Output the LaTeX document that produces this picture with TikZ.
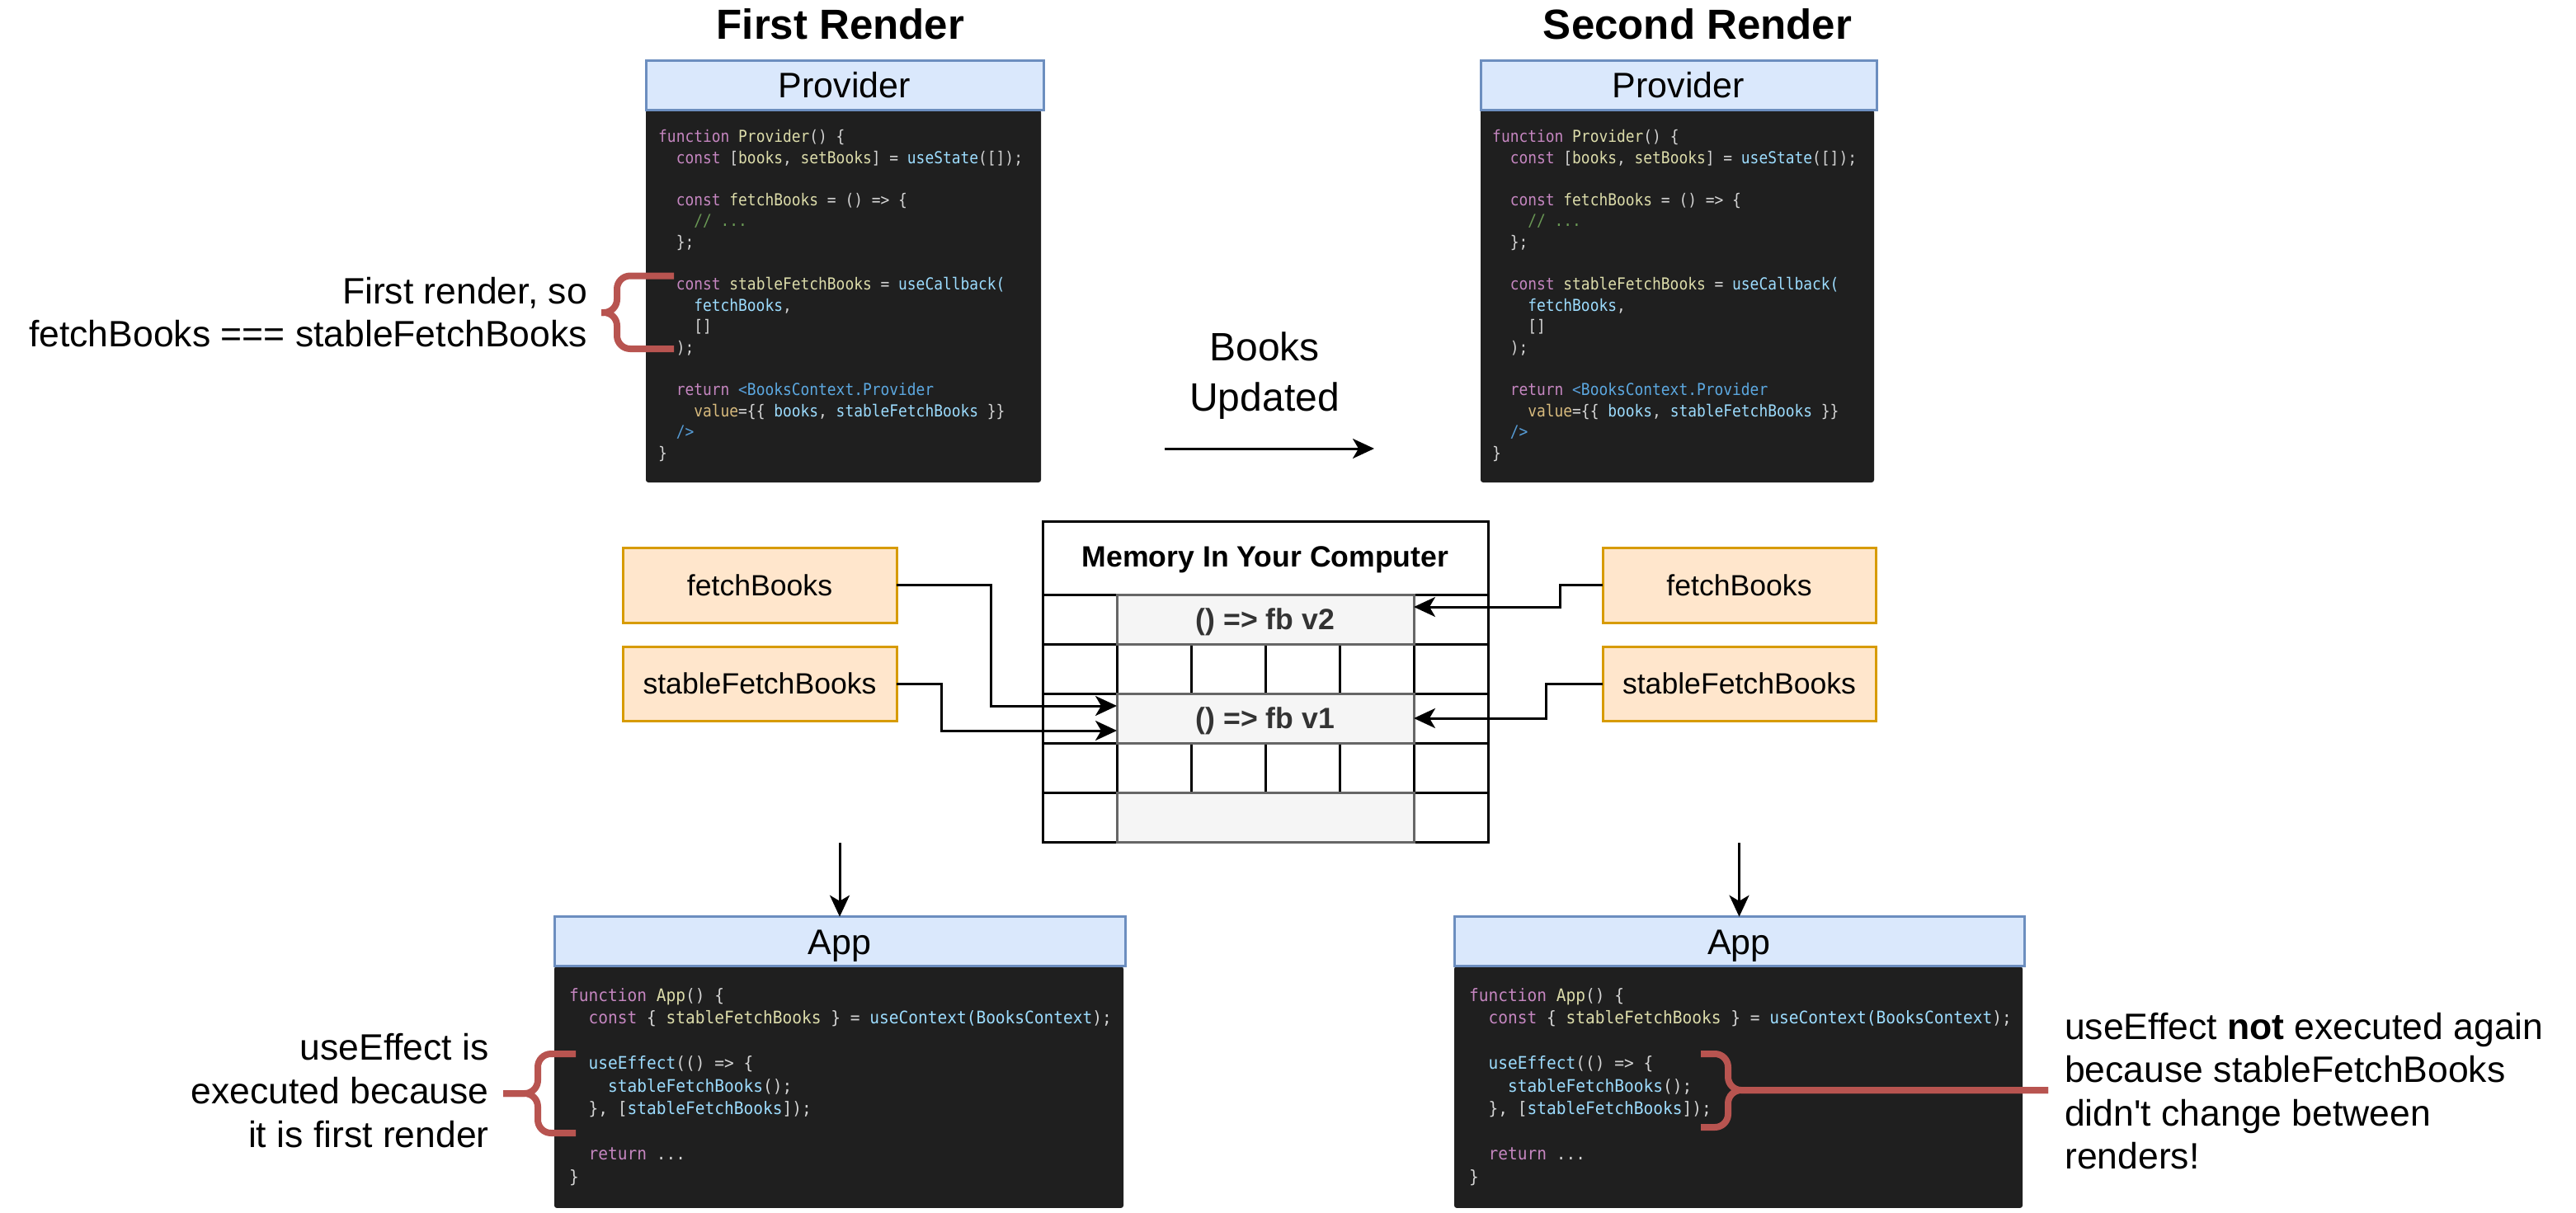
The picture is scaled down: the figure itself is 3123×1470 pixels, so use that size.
\documentclass[tikz,border=0pt]{standalone}
\usepackage{fontspec}
\newfontfamily\arial{Liberation Sans}
\setmonofont{DejaVu Sans Mono}
\usetikzlibrary{arrows.meta,calc}
\definecolor{hdrfill}{HTML}{DAE8FC}
\definecolor{hdrdraw}{HTML}{6C8EBF}
\definecolor{orgfill}{HTML}{FFE6CC}
\definecolor{orgdraw}{HTML}{D79B00}
\definecolor{codebg}{HTML}{1F1F1F}
\definecolor{greyfill}{HTML}{F5F5F5}
\definecolor{greydraw}{HTML}{666666}
\definecolor{greytext}{HTML}{333333}
\definecolor{bracered}{HTML}{B85450}
\definecolor{ckw}{HTML}{C586C0}
\definecolor{cfn}{HTML}{DCDCAA}
\definecolor{cvr}{HTML}{9CDCFE}
\definecolor{cpl}{HTML}{D4D4D4}
\definecolor{ccm}{HTML}{6A9955}
\definecolor{ctg}{HTML}{569CD6}
\definecolor{ctc}{HTML}{5CA8E0}
\definecolor{cattr}{HTML}{D7BA7D}
\newcommand\fsz[2]{\fontsize{#1}{#2}\selectfont}
\newcommand\Ckw[1]{\textcolor{ckw}{#1}}
\newcommand\Cfn[1]{\textcolor{cfn}{#1}}
\newcommand\Cvr[1]{\textcolor{cvr}{#1}}
\newcommand\Ccm[1]{\textcolor{ccm}{#1}}
\newcommand\Ctg[1]{\textcolor{ctg}{#1}}
\newcommand\Ctc[1]{\textcolor{ctc}{#1}}
\newcommand\Cattr[1]{\textcolor{cattr}{#1}}
\newcommand\provcode{%
\scalebox{0.895}[1]{%
\begin{tabular}[t]{@{}l@{}}
\Ckw{function} \Cfn{Provider}() \{\\
\hphantom{xx}\Ckw{const} [\Cfn{books}, \Cfn{setBooks}] = \Cvr{useState}([]);\\
\\
\hphantom{xx}\Ckw{const} \Cfn{fetchBooks} = () => \{\\
\hphantom{xxxx}\Ccm{// ...}\\
\hphantom{xx}\};\\
\\
\hphantom{xx}\Ckw{const} \Cfn{stableFetchBooks} = \Cvr{useCallback(}\\
\hphantom{xxxx}\Cvr{fetchBooks},\\
\hphantom{xxxx}[]\\
\hphantom{xx});\\
\\
\hphantom{xx}\Ckw{return} \Ctg{<}\Ctc{BooksContext.Provider}\\
\hphantom{xxxx}\Cattr{value}=\{\{ \Cvr{books}, \Cvr{stableFetchBooks} \}\}\\
\hphantom{xx}\Ctg{/>}\\
\}
\end{tabular}}}
\newcommand\appcode{%
\scalebox{0.929}[1]{%
\begin{tabular}[t]{@{}l@{}}
\Ckw{function} \Cfn{App}() \{\\
\hphantom{xx}\Ckw{const} \{ \Cfn{stableFetchBooks} \} = \Cvr{useContext(BooksContext});\\
\\
\hphantom{xx}\Cvr{useEffect}(() => \{\\
\hphantom{xxxx}\Cvr{stableFetchBooks}();\\
\hphantom{xx}\}, [\Cvr{stableFetchBooks}]);\\
\\
\hphantom{xx}\Ckw{return} ...\\
\}
\end{tabular}}}
\begin{document}
\begin{tikzpicture}[x=1pt,y=-1pt,
  hdr/.style={draw=hdrdraw, fill=hdrfill, line width=3pt, inner sep=0pt, outer sep=0pt,
    font=\arial\fsz{43}{50}, text height=31pt, text depth=0pt},
  codebox/.style={fill=codebg, draw=none, inner sep=0pt, outer sep=0pt, rounded corners=3pt},
  varbox/.style={draw=orgdraw, fill=orgfill, line width=3pt, minimum width=332pt,
    minimum height=90pt, inner sep=0pt, outer sep=0pt, font=\arial\fsz{35.6}{43},
    text height=25.5pt, text depth=0pt},
  memcell/.style={draw=greydraw, fill=greyfill, line width=3pt, minimum width=360pt,
    minimum height=60pt, inner sep=0pt, outer sep=0pt, text=greytext,
    font=\arial\bfseries\fsz{35.6}{43}, text height=25.5pt, text depth=0pt},
  memtitle/.style={inner sep=0pt, font=\arial\bfseries\fsz{35.6}{43}, text height=25.5pt, text depth=0pt},
  grid/.style={line width=3pt},
  conn/.style={line width=3pt, -{Stealth[length=26pt,width=24pt,inset=7pt]}},
  brace/.style={draw=bracered, line width=8pt, rounded corners=16pt},
  title/.style={font=\arial\bfseries\fsz{51}{61}, inner sep=0pt, anchor=base},
  note/.style={font=\arial\fsz{44.5}{53}, inner sep=0pt},
  code/.style={inner sep=0pt, anchor=base west, text=cpl}]
\useasboundingbox (0,0) rectangle (3123,1470);
\fill[white] (0,0) rectangle (3123,1470);

% titles
\node[title] (t1) at (1019,47) {First Render};
\node[title] (t2) at (2058,47) {Second Render};

% Provider blocks
\node[codebox, minimum width=479pt, minimum height=452pt] (cbPL) at (1022.5,359) {};
\node[hdr, minimum width=482pt, minimum height=60pt] (provL) at (1024,103) {Provider};
\node[code, font=\ttfamily\frenchspacing\fsz{20}{25.6}] (txPL) at (798,172.5) {\provcode};

\node[codebox, minimum width=477pt, minimum height=452pt] (cbPR) at (2033.5,359) {};
\node[hdr, minimum width=480pt, minimum height=60pt] (provR) at (2035,103) {Provider};
\node[code, font=\ttfamily\frenchspacing\fsz{20}{25.6}] (txPR) at (1809,172.5) {\provcode};

% App blocks
\node[codebox, minimum width=690pt, minimum height=293pt] (cbAL) at (1017,1318.4) {};
\node[hdr, minimum width=692pt, minimum height=60pt] (appL) at (1018,1141.7) {App};
\node[code, font=\ttfamily\frenchspacing\fsz{21}{27.5}] (txAL) at (690,1214) {\appcode};

\node[codebox, minimum width=689pt, minimum height=293pt] (cbAR) at (2107.5,1318.4) {};
\node[hdr, minimum width=691pt, minimum height=60pt] (appR) at (2108.5,1141.7) {App};
\node[code, font=\ttfamily\frenchspacing\fsz{21}{27.5}] (txAR) at (1781,1214) {\appcode};

% braces
\draw[brace] (817,334.5) -- (748,334.5) -- (748,379) -- (729,379);
\draw[brace] (817,423) -- (748,423) -- (748,379) -- (729,379);
\draw[brace] (698,1278) -- (652,1278) -- (652,1326) -- (610,1326);
\draw[brace] (698,1374) -- (652,1374) -- (652,1326) -- (610,1326);
\draw[brace] (2062,1278) -- (2095,1278) -- (2095,1322) -- (2483,1322);
\draw[brace] (2062,1367) -- (2095,1367) -- (2095,1322) -- (2483,1322);

% annotations
\node[note, anchor=base east] (annP) at (712,368)
  {\fsz{44.5}{52}\begin{tabular}[t]{@{}r@{}}First render, so\\fetchBooks === stableFetchBooks\end{tabular}};
\node[note, anchor=base east] (annAL) at (593,1285)
  {\fsz{44.5}{53.3}\begin{tabular}[t]{@{}r@{}}useEffect is\\executed because\\it is first render\end{tabular}};
\node[note, anchor=base west] (annAR) at (2503,1260)
  {\fsz{44.5}{52.6}\begin{tabular}[t]{@{}l@{}}useEffect \textbf{not} executed again\\because stableFetchBooks\\didn't change between\\renders!\end{tabular}};
\node[note, anchor=base] (books) at (1533,437)
  {\fsz{48}{61.7}\begin{tabular}[t]{@{}c@{}}Books\\Updated\end{tabular}};

% Books updated arrow
\coordinate (bu1) at (1412,544);
\coordinate (bu2) at (1666,544);
\draw[conn] (bu1) -- (bu2);

% memory grid
\draw[grid] (1264,632) rectangle (1804,1021);
\foreach \yy in {721,781,841,901,961} \draw[grid] (1264,\yy) -- (1804,\yy);
\foreach \xx in {1354,1714} \draw[grid] (\xx,721) -- (\xx,1021);
\foreach \xx in {1444,1534,1624} {
  \draw[grid] (\xx,781) -- (\xx,841);
  \draw[grid] (\xx,901) -- (\xx,961);
}
\node[memtitle] (memT) at (1534,675) {Memory In Your Computer};
\node[memcell] (v2) at (1534,751) {() => fb v2};
\node[memcell] (v1) at (1534,871) {() => fb v1};
\node[memcell] (m0) at (1534,991) {};

% variable boxes
\node[varbox, minimum height=91pt] (fbL) at (921,709.5) {fetchBooks};
\node[varbox] (sfL) at (921,829) {stableFetchBooks};
\node[varbox, minimum width=331pt, minimum height=91pt] (fbR) at (2108.5,709.5) {fetchBooks};
\node[varbox, minimum width=331pt] (sfR) at (2108.5,829) {stableFetchBooks};

% connectors
\coordinate (v1a) at ($(v1.north west)!0.25!(v1.south west)$);
\coordinate (v1b) at ($(v1.north west)!0.75!(v1.south west)$);
\coordinate (v2a) at ($(v2.north east)!0.25!(v2.south east)$);
\draw[conn] (fbL.east) -| ([xshift=-153pt]v1a) -- (v1a);
\draw[conn] (sfL.east) -| ([xshift=-213pt]v1b) -- (v1b);
\draw[conn] (fbR.west) -| ([xshift=177pt]v2a) -- (v2a);
\draw[conn] (sfR.west) -| ([xshift=160pt]v1.east) -- (v1.east);

% down arrows
\coordinate (dL) at (1018,1022);
\coordinate (dR) at (2108.5,1022);
\draw[conn] (dL) -- (appL.north);
\draw[conn] (dR) -- (appR.north);
\end{tikzpicture}
\end{document}
